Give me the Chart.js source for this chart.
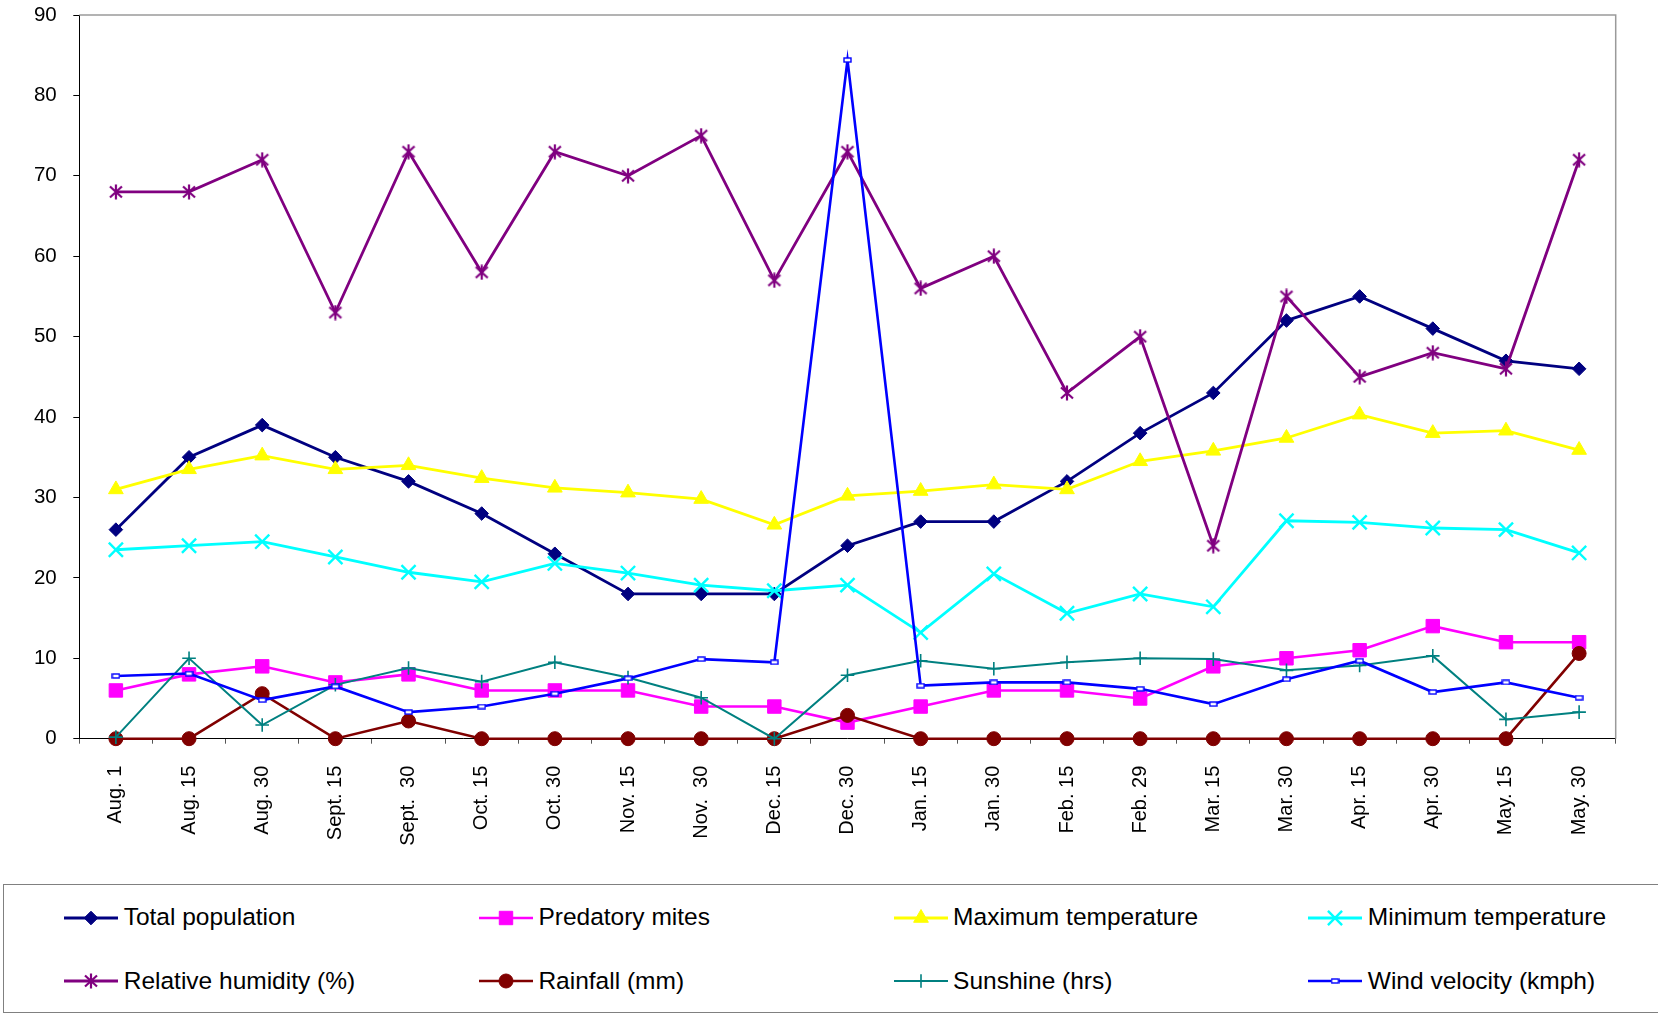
<!DOCTYPE html>
<html>
<head>
<meta charset="utf-8">
<title>Population, predatory mites and weather</title>
<script src="https://cdn.jsdelivr.net/npm/chart.js@4/dist/chart.umd.min.js"></script>
<style>
  html, body { margin: 0; padding: 0; background: #fff; overflow: hidden; }
  #stage { position: relative; width: 1658px; height: 1013px; background: #fff; }
  #plot { position: absolute; left: 0; top: 0; }
  #legend {
    position: absolute; left: 3px; top: 884px; width: 1655px; height: 129px;
    box-sizing: border-box; border: 1.5px solid #808080; border-right: none;
  }
  .item-swatch { position: absolute; }
  .item-text {
    position: absolute; white-space: pre; color: #000;
    font-family: "Liberation Sans", Arial, sans-serif; font-size: 24.5px; line-height: 30px;
  }
</style>
</head>
<body>
<div id="stage">
  <canvas id="plot" width="1658" height="884"></canvas>
  <div id="legend"></div>
</div>
<script>
// Sampling dates (fortnightly)
const categories = ["Aug. 1", "Aug. 15", "Aug. 30", "Sept. 15", "Sept.  30", "Oct. 15", "Oct. 30",
  "Nov. 15", "Nov.  30", "Dec. 15", "Dec. 30", "Jan. 15", "Jan. 30", "Feb. 15", "Feb. 29",
  "Mar. 15", "Mar. 30", "Apr. 15", "Apr. 30", "May. 15", "May. 30"];

const seriesNames = ["Total population", "Predatory mites", "Maximum temperature", "Minimum temperature",
  "Relative humidity (%)", "Rainfall (mm)", "Sunshine (hrs)", "Wind velocity (kmph)"];

const totalPopulation = [26, 35, 39, 35, 32, 28, 23, 18, 18, 18, 24, 27, 27, 32, 38, 43, 52, 55, 51, 47, 46];
const predatoryMites  = [6, 8, 9, 7, 8, 6, 6, 6, 4, 4, 2, 4, 6, 6, 5, 9, 10, 11, 14, 12, 12];
const maxTemperature  = [31, 33.5, 35.2, 33.5, 34, 32.4, 31.2, 30.6, 29.8, 26.6, 30.2, 30.8, 31.6, 31, 34.5, 35.8, 37.4, 40.3, 38, 38.3, 35.9];
const minTemperature  = [23.5, 24, 24.5, 22.6, 20.7, 19.5, 21.8, 20.6, 19.1, 18.4, 19.1, 13.2, 20.5, 15.6, 18, 16.4, 27.1, 26.9, 26.2, 26, 23.1];
const relHumidity     = [68, 68, 72, 53, 73, 58, 73, 70, 75, 57, 73, 56, 60, 43, 50, 24, 55, 45, 48, 46, 72];
const rainfall        = [0, 0, 5.6, 0, 2.2, 0, 0, 0, 0, 0, 2.9, 0, 0, 0, 0, 0, 0, 0, 0, 0, 10.6];
const sunshine        = [0.2, 10, 1.7, 6.7, 8.8, 7.1, 9.5, 7.6, 5.1, 0, 7.9, 9.7, 8.7, 9.5, 10, 9.9, 8.5, 9.1, 10.3, 2.4, 3.3];
const windVelocity    = [7.8, 8.1, 4.8, 6.5, 3.3, 4.0, 5.6, 7.5, 9.9, 9.5, 84.4, 6.6, 7.0, 7.0, 6.2, 4.3, 7.4, 9.7, 5.8, 7.0, 5.1];

const yTicks = [0, 10, 20, 30, 40, 50, 60, 70, 80, 90];

const FONT = '"Liberation Sans", Arial, sans-serif';

// Asterisk marker: an X crossed by a vertical bar
function asteriskMarker(color) {
  const c = document.createElement('canvas');
  c.width = 16; c.height = 16;
  const g = c.getContext('2d');
  g.strokeStyle = color; g.lineWidth = 2.2; g.lineCap = 'butt';
  g.beginPath();
  g.moveTo(2, 2.5); g.lineTo(14, 13.5);
  g.moveTo(14, 2.5); g.lineTo(2, 13.5);
  g.moveTo(8, 0.5); g.lineTo(8, 15.5);
  g.stroke();
  return c;
}

// Small hollow bar marker
function barMarker(color) {
  const c = document.createElement('canvas');
  c.width = 9; c.height = 6;
  const g = c.getContext('2d');
  g.fillStyle = '#ffffff';
  g.fillRect(1, 1, 7, 4);
  g.strokeStyle = color; g.lineWidth = 1.4;
  g.strokeRect(1, 1, 7, 4);
  return c;
}

const styles = [
  { color: '#000080', lw: 2.8, point: 'rectRot', radius: 6.8, pbw: 1, fill: '#000080' },
  { color: '#FF00FF', lw: 2.6, point: 'rect', radius: 9.5, pbw: 1, fill: '#FF00FF' },
  { color: '#FFFF00', lw: 2.8, point: 'triangle', radius: 8.5, pbw: 1, fill: '#FFFF00' },
  { color: '#00FFFF', lw: 2.8, point: 'crossRot', radius: 10, pbw: 2.4, fill: '#00FFFF' },
  { color: '#800080', lw: 2.8, point: asteriskMarker('#800080'), radius: 8, pbw: 0, fill: '#800080' },
  { color: '#800000', lw: 2.6, point: 'circle', radius: 7, pbw: 1, fill: '#800000' },
  { color: '#008080', lw: 2.0, point: 'cross', radius: 6.8, pbw: 1.6, fill: '#008080' },
  { color: '#0000FF', lw: 2.6, point: barMarker('#0000FF'), radius: 4, pbw: 0, fill: '#0000FF' }
];

const values = [totalPopulation, predatoryMites, maxTemperature, minTemperature,
  relHumidity, rainfall, sunshine, windVelocity];

const datasets = values.map((v, i) => ({
  label: seriesNames[i],
  data: v,
  borderColor: styles[i].color,
  backgroundColor: styles[i].fill,
  borderWidth: styles[i].lw,
  pointStyle: styles[i].point,
  pointRadius: styles[i].radius,
  pointHoverRadius: styles[i].radius,
  pointBorderWidth: styles[i].pbw,
  pointBorderColor: styles[i].color,
  pointBackgroundColor: styles[i].fill,
  tension: 0,
  fill: false,
  clip: false,
  order: values.length - i
}));

// Grey frame on the top and right edges of the plotting area
const plotFrame = {
  id: 'plotFrame',
  beforeDatasetsDraw(chart) {
    const { ctx, chartArea: a } = chart;
    ctx.save();
    ctx.strokeStyle = '#9a9a9a';
    ctx.lineWidth = 1.5;
    ctx.beginPath();
    ctx.moveTo(a.left, a.top);
    ctx.lineTo(a.right, a.top);
    ctx.lineTo(a.right, a.bottom);
    ctx.stroke();
    ctx.restore();
  }
};

const chart = new Chart(document.getElementById('plot').getContext('2d'), {
  type: 'line',
  data: { labels: categories, datasets },
  options: {
    responsive: false,
    animation: false,
    events: [],
    layout: { padding: { top: 15, right: 42.3, left: 0, bottom: 0 } },
    plugins: { legend: { display: false }, tooltip: { enabled: false } },
    scales: {
      x: {
        type: 'category',
        offset: true,
        grid: { offset: true, drawOnChartArea: false, drawTicks: true, tickLength: 5, tickColor: '#555', color: '#555', lineWidth: 1 },
        border: { display: true, color: '#000', width: 1 },
        ticks: {
          autoSkip: false, minRotation: 90, maxRotation: 90, padding: 22, color: '#000',
          font: { family: FONT, size: 20 }
        },
        afterFit(scale) { scale.height = 145.3; scale.paddingLeft = 0; scale.paddingRight = 0; }
      },
      y: {
        min: yTicks[0], max: yTicks[yTicks.length - 1],
        afterBuildTicks(scale) { scale.ticks = yTicks.map(v => ({ value: v })); },
        grid: { drawOnChartArea: false, drawTicks: true, tickLength: 6, tickColor: '#000', color: '#000' },
        border: { display: true, color: '#000', width: 1 },
        ticks: { padding: 16.6, color: '#000', font: { family: FONT, size: 20.5 } },
        afterFit(scale) { scale.width = 79.3; scale.paddingTop = 0; scale.paddingBottom = 0; }
      }
    }
  },
  plugins: [plotFrame]
});

// Legend: four columns, two rows, each entry a line with its marker
const legend = document.getElementById('legend');
const colX = [63.3, 478, 892.7, 1307.4];
const rowY = [916.7, 980];
chart.data.datasets.forEach((ds, i) => {
  const col = i % 4, row = Math.floor(i / 4);
  const left = colX[col] - 3, top = rowY[row] - 884;
  const sw = document.createElement('canvas');
  sw.width = 54; sw.height = 24;
  sw.className = 'item-swatch';
  sw.style.left = left + 'px';
  sw.style.top = (top - 12) + 'px';
  const g = sw.getContext('2d');
  g.strokeStyle = ds.borderColor;
  g.lineWidth = ds.borderWidth;
  g.beginPath(); g.moveTo(0, 12); g.lineTo(54, 12); g.stroke();
  g.fillStyle = ds.pointBackgroundColor;
  g.strokeStyle = ds.pointBorderColor;
  g.lineWidth = ds.pointBorderWidth;
  const opts = { pointStyle: ds.pointStyle, radius: ds.pointRadius, rotation: 0, borderWidth: ds.pointBorderWidth };
  if (Chart.helpers && Chart.helpers.drawPoint) {
    Chart.helpers.drawPoint(g, opts, 27, 12);
  }
  legend.appendChild(sw);

  const t = document.createElement('span');
  t.className = 'item-text';
  t.textContent = ds.label;
  t.style.left = (left + 59.4) + 'px';
  t.style.top = (top - 15.5) + 'px';
  legend.appendChild(t);
});
</script>
</body>
</html>
